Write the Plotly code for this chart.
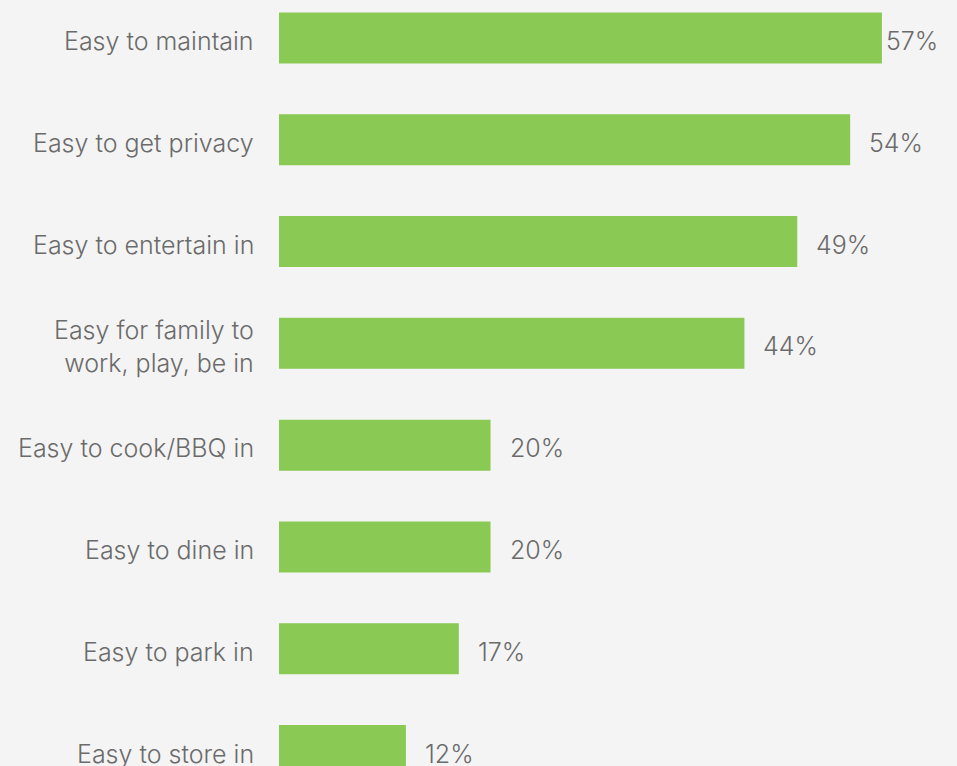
import plotly.graph_objects as go

categories = [
    "Easy to maintain",
    "Easy to get privacy",
    "Easy to entertain in",
    "Easy for family to<br>work, play, be in",
    "Easy to cook/BBQ in",
    "Easy to dine in",
    "Easy to park in",
    "Easy to store in",
]
values = [57, 54, 49, 44, 20, 20, 17, 12]
value_labels = [f"{v}%" for v in values]

BG = "#f4f4f4"
BAR = "#8bc955"
TXT = "#6b6b6b"
FONT = "Inter"

fig = go.Figure(
    go.Bar(
        x=values,
        y=categories,
        orientation="h",
        width=0.501,
        marker=dict(color=BAR, line=dict(width=0)),
        hoverinfo="skip",
    )
)

vmax = max(values)
for v, c, t in zip(values, categories, value_labels):
    # value label to the right of each bar
    fig.add_annotation(
        x=v, y=c, xref="x", yref="y", text=t, showarrow=False,
        xanchor="left", yanchor="middle",
        xshift=2 if v == vmax else 17, yshift=-3,
        font=dict(family=FONT, size=25, color=TXT, weight=300),
    )
    # category label to the left of the plot area
    fig.add_annotation(
        x=0, y=c, xref="paper", yref="y", text=c, showarrow=False,
        xanchor="right", yanchor="middle", align="right",
        xshift=-23, yshift=-3,
        font=dict(family=FONT, size=25, color=TXT, weight=300),
    )

fig.update_layout(
    width=957, height=766,
    margin=dict(l=279, r=0, t=0, b=0),
    paper_bgcolor=BG, plot_bgcolor=BG,
    showlegend=False,
    font=dict(family=FONT, size=25, color=TXT, weight=300),
    xaxis=dict(range=[0, 64.1], visible=False, fixedrange=True),
    yaxis=dict(
        type="category",
        categoryorder="array", categoryarray=categories,
        range=[7.152, -0.373],
        showgrid=False, zeroline=False, showline=False,
        ticks="", showticklabels=False,
    ),
)

fig.write_html("out.html")
